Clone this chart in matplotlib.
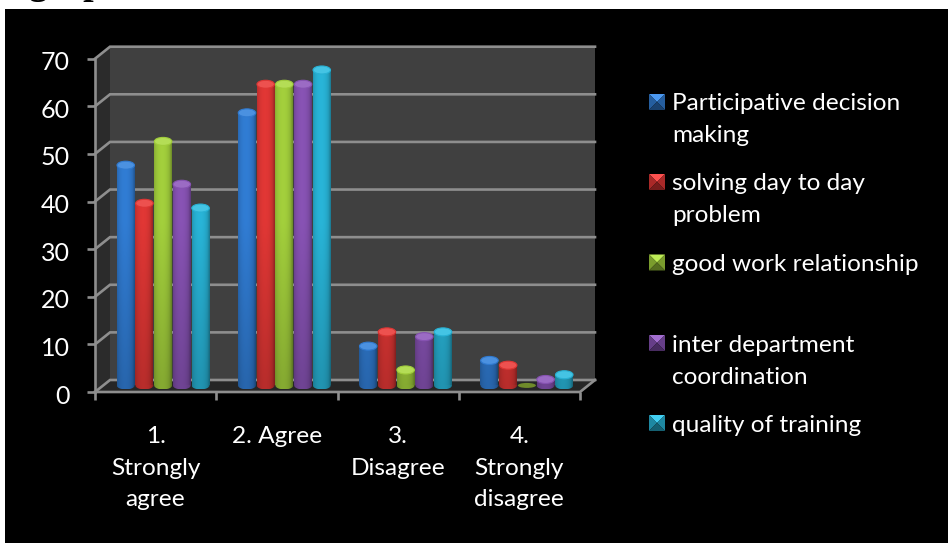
import numpy as np
import matplotlib
matplotlib.use("Agg")
import matplotlib.pyplot as plt
from matplotlib.patches import Ellipse, Polygon, Rectangle
from matplotlib.transforms import Affine2D, IdentityTransform
from matplotlib.colors import to_rgb

categories = ["1.\nStrongly\nagree", "2. Agree", "3.\nDisagree", "4.\nStrongly\ndisagree"]
series_names = ["Participative decision\nmaking", "solving day to day\nproblem",
                "good work relationship", "inter department\ncoordination", "quality of training"]
participative = [47, 58, 9, 6]
solving = [39, 64, 12, 5]
good_work = [52, 64, 4, 0]
inter_dept = [43, 64, 11, 2]
training = [38, 67, 12, 3]
y_ticks = [0, 10, 20, 30, 40, 50, 60, 70]

all_series = [participative, solving, good_work, inter_dept, training]
colors = ["#2f78cc", "#d93533", "#9dc83a", "#8350ae", "#27aed0"]

W, H = 948, 543
FONT = "Lato"
GRID = "#8e8e8e"
plt.rcParams["font.family"] = FONT

fig = plt.figure(figsize=(W / 100, H / 100), dpi=100, facecolor="white")
fig.patches.append(Rectangle((5 / W, 0), 1, (H - 9) / H, transform=fig.transFigure,
                             facecolor="black", edgecolor="none", zorder=-10))

# Heading above the black panel runs off the top of the page
fig.text(29 / W, (H + 6) / H, "grap", family="Liberation Serif", weight="bold",
         fontsize=27, color="black", va="baseline", ha="left")

# Front plane of the 3-D box in pixels
x0, x1, y0, y1 = 95, 580, 392, 58.7
ax = fig.add_axes([x0 / W, (H - y0) / H, (x1 - x0) / W, (y0 - y1) / H], facecolor="none")
ax.set_xlim(-0.5, 3.5)
ax.set_ylim(0, 70)
for s in ax.spines.values():
    s.set_visible(False)

DX, DY = 15, 12
def to_px(x, y):
    return ax.transData.transform((x, y))

pix = IdentityTransform()
mid = ax.transData + Affine2D().translate(DX / 2, 3)

# Walls and floor
bl, tl = to_px(-0.5, 0), to_px(-0.5, 70)
br = to_px(3.5, 0)
d = np.array([DX, DY])
ax.add_patch(Polygon([bl + d, br + d, to_px(3.5, 70) + d, tl + d], transform=pix,
                     facecolor="#404040", edgecolor="none", zorder=1, clip_on=False))
ax.add_patch(Polygon([bl, bl + d, tl + d, tl], transform=pix,
                     facecolor="#2b2b2b", edgecolor="none", zorder=1, clip_on=False))
ax.add_patch(Polygon([bl, br, br + d, bl + d], transform=pix,
                     facecolor="#262626", edgecolor="none", zorder=1, clip_on=False))

# Gridlines wrap from the side wall across the back wall
for v in y_ticks:
    p = to_px(-0.5, v)
    q = to_px(3.5, v)
    ax.plot([p[0], p[0] + DX, q[0] + DX], [p[1], p[1] + DY, q[1] + DY], transform=pix,
            color=GRID, lw=1.9, zorder=2, clip_on=False, solid_joinstyle="miter")
ax.plot([bl[0], tl[0]], [bl[1], tl[1]], transform=pix, color=GRID, lw=1.9, zorder=2, clip_on=False)
ax.plot([bl[0], br[0], br[0] + DX], [bl[1], br[1], br[1] + DY], transform=pix,
        color=GRID, lw=1.9, zorder=2, clip_on=False)

# Cylinder shading: dark rims, bright band left of centre, darkening toward the floor
u = np.linspace(-1, 1, 60)
profile = 0.72 + 0.32 * np.sqrt(np.clip(1 - (u + 0.1) ** 2, 0, 1))

def shade(color, heights):
    rgb = np.array(to_rgb(color))
    vert = 0.82 + 0.18 * np.clip(np.asarray(heights) / 35, 0, 1)
    img = vert[:, None, None] * profile[None, :, None] * rgb[None, None, :]
    return np.clip(img, 0, 1)

slot = 18.7 / 121.25
bar_w = 18.0 / 121.25
unit_px = (y0 - y1) / 70
cap_h = 8 / unit_px
foot_y = 0.75  # column feet sit slightly behind the front edge of the floor

for i, (vals, col) in enumerate(zip(all_series, colors)):
    xs = np.arange(len(categories)) + (i - 2) * slot
    heights = [max(v - foot_y, 0) for v in vals]
    rects = ax.bar(xs, heights, bottom=foot_y, width=bar_w, color=col, transform=mid,
                   zorder=3 + i * 0.1, clip_on=False)
    for x, v, r in zip(xs, vals, rects):
        z = 3 + i * 0.1
        ytop = max(v, foot_y)
        top = np.array(to_rgb(col))
        if v == 0:
            # An empty column collapses to a flat disc on the floor
            ax.add_patch(Ellipse((x, foot_y), bar_w, 5 / unit_px, transform=mid,
                                 facecolor="#6f8a2a", edgecolor="none", zorder=z + 0.02,
                                 clip_on=False))
            continue
        ext = [x - bar_w / 2, x + bar_w / 2, foot_y, ytop]
        im = ax.imshow(shade(col, np.linspace(v, 0, 40)), extent=ext, aspect="auto",
                       transform=mid, zorder=z + 0.01, interpolation="bilinear")
        im.set_clip_path(r)
        foot = Ellipse((x, foot_y), bar_w, cap_h, transform=mid, facecolor="none",
                       edgecolor="none", zorder=z + 0.005, clip_on=False)
        ax.add_patch(foot)
        im2 = ax.imshow(shade(col, np.zeros(2)),
                        extent=[ext[0], ext[1], foot_y - cap_h / 2, foot_y + cap_h / 2],
                        aspect="auto", transform=mid, zorder=z, interpolation="bilinear")
        im2.set_clip_path(foot)
        ax.add_patch(Ellipse((x, v), bar_w * 0.97, cap_h, transform=mid,
                             facecolor=np.clip(top * 0.95 + 0.12, 0, 1),
                             edgecolor=np.clip(top * 1.02, 0, 1), lw=0.8,
                             zorder=z + 0.02, clip_on=False))
ax.set_xlim(-0.5, 3.5)
ax.set_ylim(0, 70)

# Axis ticks and labels
ax.set_yticks(y_ticks)
ax.tick_params(axis="y", length=6, width=1.9, color=GRID, labelcolor="white",
               labelsize=18, pad=12)
for lab in ax.get_yticklabels():
    lab.set_transform(lab.get_transform() + Affine2D().translate(0, -2))
ax.set_xticks(np.arange(len(categories)))
ax.set_xticklabels(categories, color="white", fontsize=17.6, linespacing=1.62, ha="center")
ax.tick_params(axis="x", which="major", length=0, pad=24.5)
ax.set_xticks(np.arange(-0.5, 4), minor=True)
ax.tick_params(axis="x", which="minor", length=6, width=1.9, color=GRID)

# Legend: bevelled square keys with unevenly spaced entries
key_y = [102, 182, 262.5, 343, 423]
for name, col, yc in zip(series_names, colors, key_y):
    c = np.array(to_rgb(col))
    l, r = 649, 665
    t, b = H - (yc - 8), H - (yc + 8)
    m = ((l + r) / 2, (t + b) / 2)
    faces = [([(l, t), (r, t), m], np.clip(c * 1.05 + 0.1, 0, 1)),
             ([(l, t), (l, b), m], c * 0.78),
             ([(r, t), (r, b), m], c * 0.78),
             ([(l, b), (r, b), m], c * 0.55)]
    for pts, fc in faces:
        fig.patches.append(Polygon(pts, transform=pix, facecolor=fc, edgecolor="none"))
    parts = name.split("\n")
    fig.text(672 / W, (H - yc - 2) / H, parts[0], color="white", fontsize=17.6,
             va="center", ha="left")
    if len(parts) > 1:
        fig.text(672 / W, (H - yc - 34) / H, parts[1], color="white", fontsize=17.6,
                 va="center", ha="left")

fig.savefig("out.png", dpi=100, facecolor="white")
